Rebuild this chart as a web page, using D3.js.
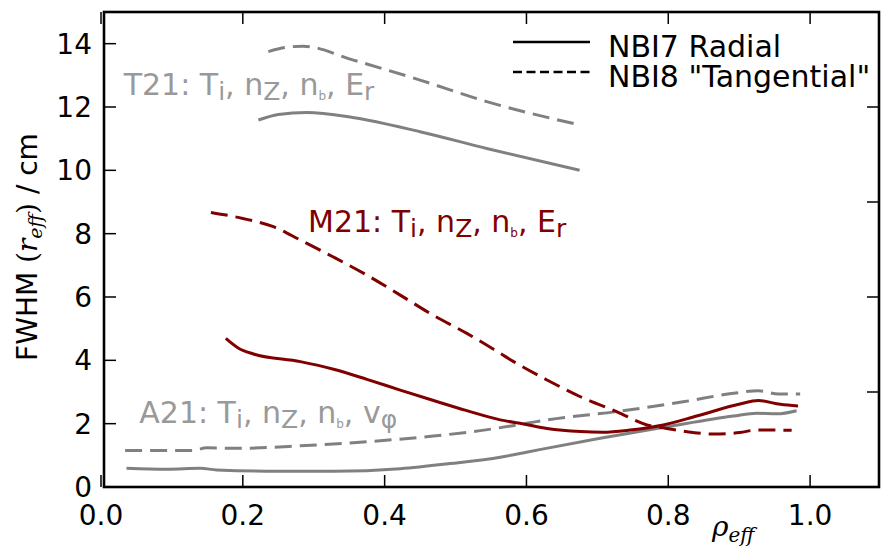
<!DOCTYPE html>
<html><head><meta charset="utf-8">
<script src="https://cdn.jsdelivr.net/npm/d3@7"></script>
<style>body{margin:0;background:#fff}svg{display:block}text{font-family:"DejaVu Sans",sans-serif}</style>
</head><body><svg id="c" width="881" height="549"></svg>
<script>
// ---- data ----
const xTicks = [0.0, 0.2, 0.4, 0.6, 0.8, 1.0];
const xTickLabels = ["0.0", "0.2", "0.4", "0.6", "0.8", "1.0"];
const yTicks = [0, 2, 4, 6, 8, 10, 12, 14];
const yTickLabels = ["0", "2", "4", "6", "8", "10", "12", "14"];
const rightTicks = [3, 6, 9, 12];

// T21 (gray, upper)
const t21RadRho = [0.222, 0.25, 0.29, 0.355, 0.45, 0.544, 0.675];
const t21RadVal = [11.59, 11.76, 11.83, 11.67, 11.22, 10.69, 10.0];
const t21TanRho = [0.236, 0.26, 0.285, 0.356, 0.45, 0.544, 0.676];
const t21TanVal = [13.75, 13.88, 13.92, 13.48, 12.85, 12.17, 11.43];

// M21 (dark red)
const m21RadRho = [0.176, 0.194, 0.215, 0.281, 0.328, 0.375, 0.422, 0.469, 0.516, 0.563, 0.596, 0.629, 0.676, 0.708, 0.746, 0.793, 0.84, 0.901, 0.927, 0.958, 0.983];
const m21RadVal = [4.69, 4.38, 4.2, 3.96, 3.72, 3.4, 3.06, 2.73, 2.41, 2.12, 1.99, 1.85, 1.75, 1.73, 1.8, 1.96, 2.24, 2.62, 2.73, 2.61, 2.56];
const m21TanRho = [0.155, 0.2, 0.243, 0.281, 0.327, 0.375, 0.422, 0.468, 0.516, 0.563, 0.582, 0.629, 0.676, 0.727, 0.77, 0.798, 0.835, 0.864, 0.901, 0.925, 0.974];
const m21TanVal = [8.67, 8.48, 8.22, 7.8, 7.27, 6.69, 6.06, 5.43, 4.85, 4.22, 3.96, 3.38, 2.85, 2.38, 1.96, 1.85, 1.72, 1.67, 1.72, 1.8, 1.79];

// A21 (gray, lower)
const a21RadRho = [0.036, 0.093, 0.14, 0.163, 0.234, 0.328, 0.422, 0.492, 0.563, 0.6, 0.704, 0.798, 0.892, 0.925, 0.953, 0.981];
const a21RadVal = [0.59, 0.56, 0.59, 0.54, 0.50, 0.50, 0.58, 0.74, 0.94, 1.1, 1.54, 1.9, 2.24, 2.33, 2.31, 2.41];
const a21TanRho = [0.034, 0.13, 0.149, 0.187, 0.281, 0.375, 0.469, 0.535, 0.6, 0.629, 0.727, 0.821, 0.892, 0.927, 0.955, 0.986];
const a21TanVal = [1.15, 1.15, 1.24, 1.22, 1.30, 1.43, 1.61, 1.78, 2.01, 2.12, 2.38, 2.69, 2.96, 3.04, 2.94, 2.94];

const legendLabels = ["NBI7 Radial", "NBI8 \"Tangential\""];

// ---- drawing ----
const svg = d3.select("#c");
const x = d3.scaleLinear().domain([0, 1.1]).range([101, 881]);
const y = d3.scaleLinear().domain([0, 15]).range([487, 12]);
const GRAY = "#808080", RED = "#800000", LGRAY = "#999999";
const FS = 28;

const zip = (a, b) => a.map((v, i) => [v, b[i]]);
const line = d3.line().x(d => x(d[0])).y(d => y(d[1])).curve(d3.curveMonotoneX);

const series = [
  {rho: t21RadRho, val: t21RadVal, c: GRAY, dash: null},
  {rho: t21TanRho, val: t21TanVal, c: GRAY, dash: "17,8"},
  {rho: a21TanRho, val: a21TanVal, c: GRAY, dash: "17,8"},
  {rho: a21RadRho, val: a21RadVal, c: GRAY, dash: null},
  {rho: m21TanRho, val: m21TanVal, c: RED, dash: "17,8"},
  {rho: m21RadRho, val: m21RadVal, c: RED, dash: null}
];
svg.append("g").selectAll("path").data(series).join("path")
  .attr("d", s => line(zip(s.rho, s.val)))
  .attr("fill", "none").attr("stroke", s => s.c).attr("stroke-width", 3)
  .attr("stroke-dasharray", s => s.dash);

// frame
const L = 104, R = 879, T = 12, B = 487;
svg.append("rect").attr("x", L).attr("y", T).attr("width", R - L).attr("height", B - T)
  .attr("fill", "none").attr("stroke", "#000").attr("stroke-width", 2.6);

const tk = svg.append("g").attr("stroke", "#000").attr("stroke-width", 1.5);
xTicks.forEach(v => {
  tk.append("line").attr("x1", x(v)).attr("x2", x(v)).attr("y1", B).attr("y2", B - 12);
  tk.append("line").attr("x1", x(v)).attr("x2", x(v)).attr("y1", T).attr("y2", T + 12);
});
yTicks.forEach(v => {
  tk.append("line").attr("x1", L).attr("x2", L + 12).attr("y1", y(v)).attr("y2", y(v));
});
rightTicks.forEach(v => {
  tk.append("line").attr("x1", R).attr("x2", R - 12).attr("y1", y(v)).attr("y2", y(v));
});

svg.append("g").selectAll("text").data(xTicks).join("text")
  .attr("x", d => x(d)).attr("y", 525).attr("text-anchor", "middle")
  .attr("font-size", FS).attr("fill", "#000").text((d, i) => xTickLabels[i]);
svg.append("g").selectAll("text").data(yTicks).join("text")
  .attr("x", 92).attr("y", d => y(d)).attr("dy", "0.36em").attr("text-anchor", "end")
  .attr("font-size", FS).attr("fill", "#000").text((d, i) => yTickLabels[i]);

// x label rho_eff
const xl = svg.append("text").attr("x", 712).attr("y", 536)
  .style("font-family", "'DejaVu Serif',serif").attr("font-style", "italic").attr("font-size", 28);
xl.append("tspan").text("ρ");
xl.append("tspan").attr("font-size", 20).attr("dy", 6).text("eff");

// y label
const yl = svg.append("text").attr("transform", "translate(37,247) rotate(-90)")
  .attr("text-anchor", "middle").attr("font-size", FS);
yl.append("tspan").text("FWHM  ");
yl.append("tspan").style("font-family", "'DejaVu Serif',serif").text("(");
yl.append("tspan").style("font-family", "'DejaVu Serif',serif").attr("font-style", "italic").text("r");
yl.append("tspan").style("font-family", "'DejaVu Serif',serif").attr("font-style", "italic").attr("font-size", 19).attr("dy", 5).text("eff");
yl.append("tspan").style("font-family", "'DejaVu Serif',serif").attr("dy", -5).text(")");
yl.append("tspan").text(" / cm");

// annotations
function annot(px, py, parts, color) {
  const t = svg.append("text").attr("x", x(px)).attr("y", y(py)).attr("font-size", 30).attr("fill", color);
  let cur = 0;
  parts.forEach(p => {
    const sp = t.append("tspan").text(p.t);
    const target = p.sub ? 5 : 0;
    if (target !== cur) { sp.attr("dy", target - cur); cur = target; }
    if (p.sub) sp.attr("font-size", p.tiny ? 12 : 25);
  });
}
const labelParts = (first, last) => [
  {t: first + ": T"}, {t: "i", sub: 1}, {t: ", n"}, {t: "Z", sub: 1}, {t: ", n"}, {t: "b", sub: 1, tiny: 1},
  {t: ", " + last[0]}, {t: last[1], sub: 1}
];
annot(0.032, 12.37, labelParts("T21", ["E", "r"]), LGRAY);
annot(0.292, 8.06, labelParts("M21", ["E", "r"]), RED);
annot(0.054, 2.01, labelParts("A21", ["v", "φ"]), LGRAY);

// legend
const lg = svg.append("g");
[{y: 42, dash: null}, {y: 72, dash: "9,4.5"}].forEach((d, i) => {
  lg.append("line").attr("x1", 513).attr("x2", 590).attr("y1", d.y).attr("y2", d.y)
    .attr("stroke", "#000").attr("stroke-width", 2.5).attr("stroke-dasharray", d.dash);
  lg.append("text").attr("x", 608).attr("y", d.y + 15).attr("font-size", 30).attr("fill", "#000").text(legendLabels[i]);
});
</script></body></html>
